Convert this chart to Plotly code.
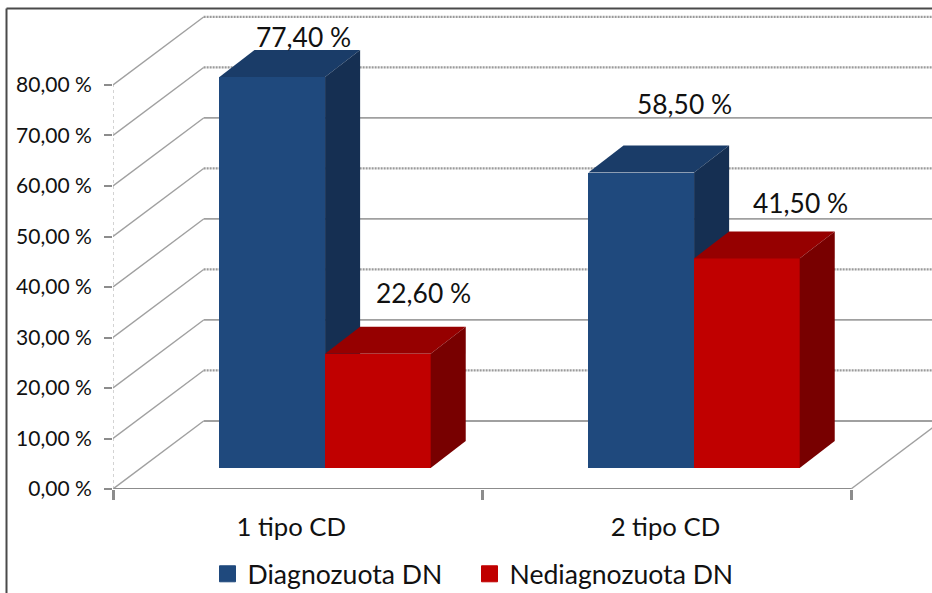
import plotly.graph_objects as go

# Share of patients by diabetes type and nephropathy diagnosis
categories = ["1 tipo CD", "2 tipo CD"]
diagnosed = [77.40, 58.50]
undiagnosed = [22.60, 41.50]
diagnosed_labels = ["77,40 %", "58,50 %"]
undiagnosed_labels = ["22,60 %", "41,50 %"]
y_ticks = [0, 10, 20, 30, 40, 50, 60, 70, 80]
y_tick_labels = ["0,00 %", "10,00 %", "20,00 %", "30,00 %", "40,00 %",
                 "50,00 %", "60,00 %", "70,00 %", "80,00 %"]
hatched_levels = [10, 30, 50, 70, 80]

# Oblique projection, expressed in axis units
WALL_DX, WALL_DY = 0.2456, 13.47     # depth of the chart box
BAR_DX, BAR_DY = 0.095, 5.35         # depth of one bar
FLOOR_LIFT = 4.16                    # how far up the floor the bar fronts stand
BAR_START = 0.2885                   # first bar edge inside each category
BAR_W = 0.2862
X_MAX, Y_MAX = 2.2195, 96.83         # axis ranges reach the page edges so the box is not cut

BLUE = ("#1F497D", "#1A3C68", "#152F52")
RED = ("#C00000", "#960000", "#780000")
GRID = "#A0A0A0"
AXIS = "#8C8C8C"
TEXT = "#111111"
FONT = "Lato, Carlito, Calibri, sans-serif"

fig = go.Figure()


def guide(x, y, color=GRID, width=1.6, dash="solid"):
    fig.add_trace(go.Scatter(
        x=x, y=y, mode="lines", line=dict(color=color, width=width, dash=dash),
        cliponaxis=False, showlegend=False, hoverinfo="skip"))


# Back wall: each level runs along the side wall, then across the back
for level in y_ticks:
    guide([0, WALL_DX], [level, level + WALL_DY], width=1.4)
    if level in hatched_levels:
        guide([WALL_DX, 2 + WALL_DX], [level + WALL_DY] * 2, color="#9A9A9A", width=2.2, dash="2px,1px")
    else:
        guide([WALL_DX, 2 + WALL_DX], [level + WALL_DY] * 2, color=GRID, width=1.8)

# Closing edge of the floor on the right, floor front edge and dotted value axis
guide([2, 2 + WALL_DX], [0, WALL_DY], width=1.4)
guide([0, 2], [0, 0], color=AXIS, width=2)
guide([0, 0], [y_ticks[0], y_ticks[-1]], color="#A8A8A8", width=1, dash="dot")


def add_series(values, name, colours, column, axis_id):
    """Draw one series as prism bars on its own overlay so later series sit in front."""
    front, top, side = colours
    xref, yref = f"x{axis_id}", f"y{axis_id}"
    lefts = [i + BAR_START + column * BAR_W for i in range(len(values))]
    fig.add_trace(go.Bar(
        x=lefts, y=values, base=FLOOR_LIFT, width=BAR_W, offset=0,
        marker=dict(color=front, line=dict(width=0)),
        xaxis=xref, yaxis=yref, cliponaxis=False, showlegend=False,
        name=name))
    for left, value in zip(lefts, values):
        right = left + BAR_W
        high = value + FLOOR_LIFT
        fig.add_trace(go.Scatter(
            x=[left, left + BAR_DX, right + BAR_DX, right, left],
            y=[high, high + BAR_DY, high + BAR_DY, high, high],
            mode="lines", fill="toself", fillcolor=top, line=dict(width=0, color=top),
            xaxis=xref, yaxis=yref, cliponaxis=False, showlegend=False, hoverinfo="skip"))
        fig.add_trace(go.Scatter(
            x=[right, right + BAR_DX, right + BAR_DX, right, right],
            y=[high, high + BAR_DY, FLOOR_LIFT + BAR_DY, FLOOR_LIFT, high],
            mode="lines", fill="toself", fillcolor=side, line=dict(width=0, color=side),
            xaxis=xref, yaxis=yref, cliponaxis=False, showlegend=False, hoverinfo="skip"))
    # Legend entry with a large square swatch
    fig.add_trace(go.Scatter(
        x=[None], y=[None], mode="markers", name=name,
        marker=dict(symbol="square", size=16, color=front, line=dict(width=1, color=front)),
        xaxis=xref, yaxis=yref))


add_series(diagnosed, "Diagnozuota DN", BLUE, 0, 2)
add_series(undiagnosed, "Nediagnozuota DN", RED, 1, 3)

# Value labels float above the bar tops, each nudged clear of the prism
label_dx = [[0.0845, 0.117], [0.1228, 0.1445]]
label_dy = [[7.9, 13.5], [12.1, 10.9]]
for s, (values, texts) in enumerate([(diagnosed, diagnosed_labels), (undiagnosed, undiagnosed_labels)]):
    for i, (value, text) in enumerate(zip(values, texts)):
        fig.add_annotation(
            x=i + BAR_START + (s + 0.5) * BAR_W + label_dx[s][i],
            y=value + FLOOR_LIFT + label_dy[s][i],
            text=text, showarrow=False, xref="x", yref="y",
            font=dict(family=FONT, size=26.4, color=TEXT))

# Chart frame: left and top edges, the rest runs off the page
PX = 819.0
PY = 489.0
FRAME_X = (6.5 - 113) / PX
FRAME_Y = (489 - 8.5) / PY
fig.add_shape(type="line", xref="paper", yref="paper",
              x0=FRAME_X, x1=1, y0=FRAME_Y, y1=FRAME_Y,
              line=dict(color="#4A4A4A", width=2))
fig.add_shape(type="line", xref="paper", yref="paper",
              x0=FRAME_X, x1=FRAME_X, y0=FRAME_Y, y1=(489 - 593) / PY,
              line=dict(color="#4A4A4A", width=2))

overlay = dict(range=[0, X_MAX], visible=False, fixedrange=True)
overlay_y = dict(range=[0, Y_MAX], visible=False, fixedrange=True)
fig.update_layout(
    width=932, height=593,
    margin=dict(l=113, r=0, t=0, b=104, autoexpand=False),
    paper_bgcolor="white", plot_bgcolor="rgba(0,0,0,0)",
    font=dict(family=FONT, color=TEXT),
    xaxis=dict(
        range=[0, X_MAX], tickmode="array", tickvals=[0.483, 1.497], ticktext=categories,
        ticks="outside", ticklen=15, tickcolor="rgba(0,0,0,0)",
        tickfont=dict(family=FONT, size=25.7, color=TEXT),
        showgrid=False, zeroline=False, showline=False,
        minor=dict(tickmode="array", tickvals=[0, 1, 2], ticks="outside", ticklen=10,
                   tickwidth=3, tickcolor=AXIS, showgrid=False),
    ),
    yaxis=dict(
        range=[0, Y_MAX], tickmode="array", tickvals=y_ticks, ticktext=y_tick_labels,
        ticks="outside", ticklen=8, tickwidth=2, tickcolor=AXIS,
        ticklabelstandoff=8,
        tickfont=dict(family=FONT, size=21, color=TEXT),
        showgrid=False, zeroline=False, showline=False,
    ),
    xaxis2=dict(overlaying="x", **overlay),
    yaxis2=dict(overlaying="y", **overlay_y),
    xaxis3=dict(overlaying="x", **overlay),
    yaxis3=dict(overlaying="y", **overlay_y),
    legend=dict(
        orientation="h", x=(207.5 - 113) / PX, xanchor="left",
        y=(489 - 550) / PY, yanchor="top",
        entrywidth=217, entrywidthmode="pixels",
        font=dict(family=FONT, size=26.6, color=TEXT), bgcolor="rgba(0,0,0,0)",
    ),
    bargap=0,
)

fig.write_html("out.html")
